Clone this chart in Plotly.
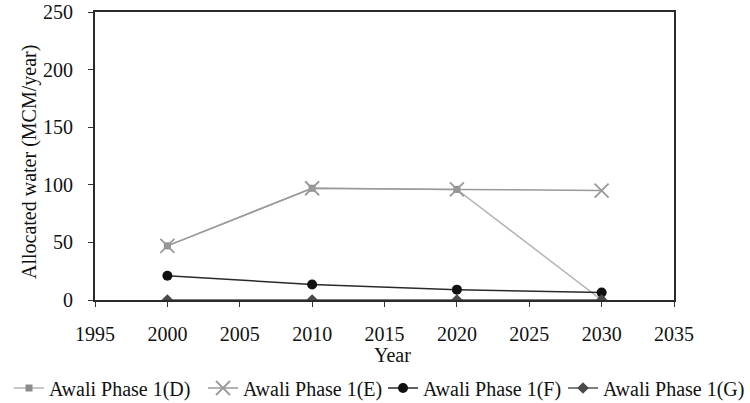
import plotly.graph_objects as go

years = [2000, 2010, 2020, 2030]
phase_d = [47, 97, 96, 0]
phase_e = [47, 97, 96, 95]
phase_f = [21, 13.5, 9, 6.5]
phase_g = [0, 0, 0, 0]
names = ["Awali Phase 1(D)", "Awali Phase 1(E)", "Awali Phase 1(F)", "Awali Phase 1(G)"]

FONT = "Liberation Serif"

fig = go.Figure()
fig.add_trace(go.Scatter(x=years, y=phase_d, name=names[0], mode="lines+markers", legend="legend",
                         line=dict(color="#b4b4b4", width=1.5),
                         marker=dict(symbol="square", size=7, color="#8c8c8c")))
fig.add_trace(go.Scatter(x=years, y=phase_e, name=names[1], mode="lines+markers", legend="legend2",
                         line=dict(color="#9a9a9a", width=1.5),
                         marker=dict(symbol="x-thin-open", size=14,
                                     line=dict(color="#8a8a8a", width=1.8))))
fig.add_trace(go.Scatter(x=years, y=phase_f, name=names[2], mode="lines+markers", legend="legend3",
                         line=dict(color="#2a2a2a", width=1.5),
                         marker=dict(symbol="circle", size=10, color="#111111")))
fig.add_trace(go.Scatter(x=years, y=phase_g, name=names[3], mode="lines+markers", legend="legend4",
                         line=dict(color="#555555", width=1.5),
                         marker=dict(symbol="diamond", size=9, color="#4a4a4a")))

W, H = 750, 403
L, R, T, B = 95, 76, 12, 103
PW, PH = W - L - R, H - T - B


def leg(xpx):
    return dict(orientation="h", x=xpx / W, xanchor="left", y=1 - 388 / H, yanchor="middle",
                xref="container", yref="container", font=dict(family=FONT, size=20, color="#111111"),
                itemwidth=30, bgcolor="rgba(0,0,0,0)", borderwidth=0)


fig.update_layout(
    width=W, height=H,
    margin=dict(l=L, r=R, t=T, b=B, autoexpand=False),
    plot_bgcolor="white", paper_bgcolor="white",
    font=dict(family=FONT, size=20, color="#111111"),
    showlegend=True,
    legend=leg(9), legend2=leg(203), legend3=leg(383), legend4=leg(563),
    annotations=[
        dict(text="Year", xref="paper", yref="paper", x=(392 - L) / PW, y=(H - B - 355) / PH,
             xanchor="center", yanchor="middle", showarrow=False,
             font=dict(family=FONT, size=20, color="#111111")),
        dict(text="Allocated water (MCM/year)", xref="paper", yref="paper",
             x=(30 - L) / PW, y=(H - B - 162) / PH, textangle=-90,
             xanchor="center", yanchor="middle", showarrow=False,
             font=dict(family=FONT, size=20, color="#111111")),
    ],
)
fig.update_xaxes(range=[1995, 2035], tickvals=[1995, 2000, 2005, 2010, 2015, 2020, 2025, 2030, 2035],
                 showgrid=False, zeroline=False, showline=True, linecolor="#2a2a2a", linewidth=1.8,
                 mirror=True, ticks="outside", ticklen=5, tickcolor="#333333",
                 ticklabelstandoff=10, ticklabeloverflow="allow")
fig.update_yaxes(range=[0, 250], tickvals=[0, 50, 100, 150, 200, 250],
                 showgrid=False, zeroline=False, showline=True, linecolor="#2a2a2a", linewidth=1.8,
                 mirror=True, ticks="outside", ticklen=5, tickcolor="#333333",
                 ticklabelstandoff=11, ticklabeloverflow="allow")

fig.write_html("out.html", config={"displayModeBar": False},
               post_script="document.body.style.margin='0';")
